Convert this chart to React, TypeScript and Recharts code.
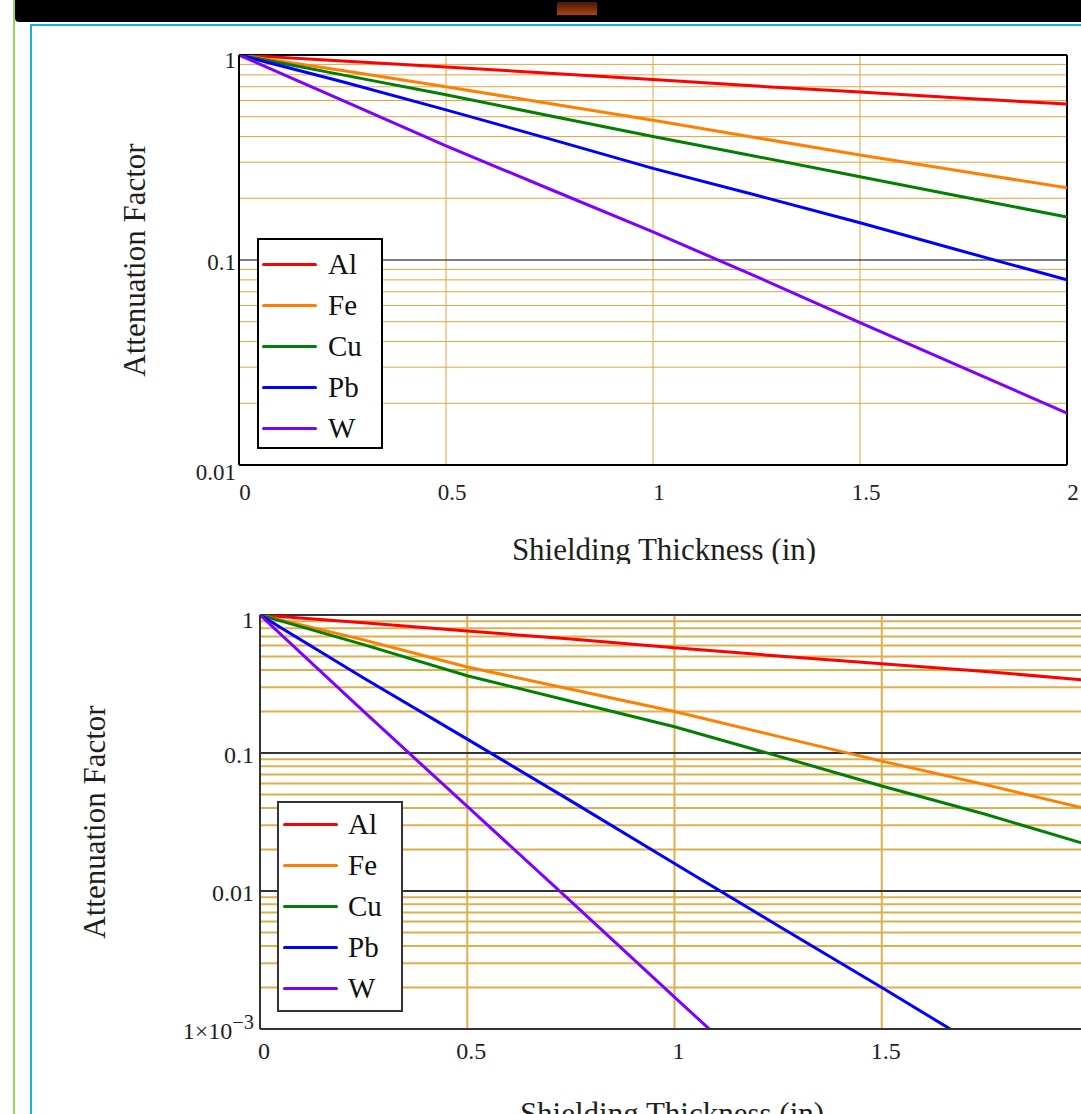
import React from 'react';
import { LineChart, Line, XAxis, YAxis, ReferenceLine } from 'recharts';

// shielding thickness (in) where the curves were read
const thickness = [0, 0.25, 0.5, 0.75, 1, 1.25, 1.5, 1.75, 2];
const materials = ['Al', 'Fe', 'Cu', 'Pb', 'W'];
const colors = ['#ff0000', '#ff8000', '#008000', '#0000ff', '#8000ff'];

// upper plot (0.01 .. 1)
const alUpper = [1, 0.935, 0.875, 0.815, 0.76, 0.705, 0.66, 0.615, 0.577];
const feUpper = [1, 0.84, 0.7, 0.58, 0.48, 0.395, 0.325, 0.27, 0.225];
const cuUpper = [1, 0.8, 0.64, 0.505, 0.4, 0.32, 0.255, 0.203, 0.162];
const pbUpper = [1, 0.74, 0.54, 0.39, 0.28, 0.207, 0.152, 0.11, 0.08];
const wUpper = [1, 0.6, 0.36, 0.222, 0.137, 0.083, 0.0495, 0.0298, 0.0179];

// lower plot (0.001 .. 1)
const alLower = [1, 0.88, 0.766, 0.67, 0.578, 0.505, 0.443, 0.39, 0.335];
const feLower = [1, 0.66, 0.42, 0.29, 0.2, 0.132, 0.0873, 0.059, 0.039];
const cuLower = [1, 0.61, 0.363, 0.237, 0.155, 0.095, 0.0576, 0.036, 0.0215];
const pbLower = [1, 0.35, 0.126, 0.045, 0.0158, 0.0056, 0.002, 0.0007, 0.00025];
const wLower = [1, 0.2, 0.041, 0.0084, 0.0017, 0.00035, 0.00007, 0.000015, 0.000003];

const xTicksUpper = [0, 0.5, 1, 1.5, 2];
const xTicksLower = [0, 0.5, 1, 1.5];
const xGrid = [0.5, 1, 1.5];
const yTicksUpper = [0.01, 0.1, 1];
const yTicksLower = [0.001, 0.01, 0.1, 1];

const FONT = '"Liberation Serif", "Times New Roman", serif';
const TEXT = '#1e1e1e';

const buildRows = (series: number[][]) =>
  thickness.map((x, i) => {
    const row: Record<string, number> = { x };
    materials.forEach((m, k) => (row[m] = series[k][i]));
    return row;
  });

// minor gridlines 2..9 inside each decade
const minorLines = (decades: number[]) =>
  decades.flatMap((d) => [2, 3, 4, 5, 6, 7, 8, 9].map((k) => +(k * d).toPrecision(3)));

const tickText = (v: number) => {
  if (v === 0.001) {
    return (
      <>
        <tspan>1×10</tspan>
        <tspan dy={-10} fontSize="0.85em">−3</tspan>
      </>
    );
  }
  return String(v);
};

interface PlotProps {
  rows: Record<string, number>[];
  top: number;
  width: number;
  height: number;
  plotLeft: number;
  plotTop: number;
  plotRight: number;
  plotBottom: number;
  yMin: number;
  yTicks: number[];
  xTicks: number[];
  minor: number[];
  decades: number[];
  gridColor: string;
  gridWidth: number;
  frameColor: string;
  decadeWidth: number;
  tickSize: number;
  yTickGap: number;
  xTickDx: number;
  xTickDy: number;
  bottomTickDy: number;
  yTitleX: number;
  xTitleX: number;
  showRightFrame: boolean;
}

function Plot(p: PlotProps) {
  const yTick = (props: any) => {
    const v = props.payload.value;
    const dy = v === 1 ? 13 : v === p.yMin ? p.bottomTickDy : 10;
    return (
      <text x={props.x - p.yTickGap} y={props.y + dy} textAnchor="end" fontFamily={FONT} fontSize={p.tickSize} fill={TEXT}>
        {tickText(v)}
      </text>
    );
  };
  const xTick = (props: any) => (
    <text x={props.x + p.xTickDx} y={props.y + p.xTickDy} textAnchor="middle" fontFamily={FONT} fontSize={p.tickSize} fill={TEXT}>
      {String(props.payload.value)}
    </text>
  );
  const midY = (p.plotTop + p.plotBottom) / 2;

  return (
    <div style={{ position: 'absolute', left: 0, top: p.top }}>
      <LineChart
        width={p.width}
        height={p.height}
        data={p.rows}
        margin={{ top: p.plotTop, right: p.width - p.plotRight, bottom: 0, left: 0 }}
      >
        <XAxis
          type="number"
          dataKey="x"
          domain={[0, 2]}
          ticks={p.xTicks}
          allowDataOverflow
          height={p.height - p.plotBottom}
          tickSize={0}
          tickMargin={0}
          tickLine={false}
          axisLine={{ stroke: p.frameColor, strokeWidth: 2 }}
          tick={xTick}
          label={{
            content: () => (
              <text x={p.xTitleX} y={p.plotBottom + 95} textAnchor="middle" fontFamily={FONT} fontSize={31} fill={TEXT}>
                Shielding Thickness (in)
              </text>
            ),
          }}
        />
        <YAxis
          type="number"
          scale="log"
          domain={[p.yMin, 1]}
          ticks={p.yTicks}
          allowDataOverflow
          width={p.plotLeft}
          tickSize={0}
          tickMargin={0}
          tickLine={false}
          axisLine={{ stroke: p.frameColor, strokeWidth: 2 }}
          tick={yTick}
          label={{
            content: () => (
              <text
                x={p.yTitleX}
                y={midY}
                transform={`rotate(-90, ${p.yTitleX}, ${midY})`}
                textAnchor="middle"
                dominantBaseline="central"
                fontFamily={FONT}
                fontSize={31}
                fill={TEXT}
              >
                Attenuation Factor
              </text>
            ),
          }}
        />
        {p.minor.map((v) => (
          <ReferenceLine key={'m' + v} y={v} stroke={p.gridColor} strokeWidth={p.gridWidth} />
        ))}
        {xGrid.map((v) => (
          <ReferenceLine key={'v' + v} x={v} stroke={p.gridColor} strokeWidth={p.gridWidth} />
        ))}
        {p.decades.map((v) => (
          <ReferenceLine key={'d' + v} y={v} stroke={p.frameColor} strokeWidth={p.decadeWidth} />
        ))}
        <ReferenceLine y={1} stroke={p.frameColor} strokeWidth={2} />
        {p.showRightFrame && <ReferenceLine x={2} stroke={p.frameColor} strokeWidth={2} />}
        {materials.map((m, i) => (
          <Line
            key={m}
            type="linear"
            dataKey={m}
            stroke={colors[i]}
            strokeWidth={3}
            dot={false}
            isAnimationActive={false}
          />
        ))}
      </LineChart>
    </div>
  );
}

function LegendBox({ left, top, rowTop, lineLeft, textLeft, border }: any) {
  return (
    <div
      style={{
        position: 'absolute',
        left,
        top,
        width: 126,
        height: 211,
        boxSizing: 'border-box',
        border: `2px solid ${border}`,
        background: '#fff',
      }}
    >
      {materials.map((m, i) => (
        <div key={m} style={{ position: 'absolute', left: 0, top: rowTop + i * 41 - 20, height: 40, width: '100%' }}>
          <div style={{ position: 'absolute', left: lineLeft, top: 18.5, width: 55, height: 3, background: colors[i], borderRadius: 1.5 }} />
          <div
            style={{
              position: 'absolute',
              left: textLeft,
              top: 0,
              height: 40,
              lineHeight: '40px',
              fontFamily: FONT,
              fontSize: 29,
              color: '#111',
            }}
          >
            {m}
          </div>
        </div>
      ))}
    </div>
  );
}

export default function App() {
  const upperRows = buildRows([alUpper, feUpper, cuUpper, pbUpper, wUpper]);
  const lowerRows = buildRows([alLower, feLower, cuLower, pbLower, wLower]);

  return (
    <div style={{ position: 'fixed', left: 0, top: 0, width: 1081, height: 1114, overflow: 'hidden', background: '#fff' }}>
      {/* page frame around the worksheet */}
      <div style={{ position: 'absolute', left: 13, top: 0, width: 2, height: 1114, background: '#9ed25a' }} />
      <div style={{ position: 'absolute', left: 15, top: 0, width: 1066, height: 22, background: '#000', borderBottomLeftRadius: 4 }} />
      <div style={{ position: 'absolute', left: 557, top: 2, width: 40, height: 13, background: 'linear-gradient(#4a1608, #a84410)' }} />
      <div style={{ position: 'absolute', left: 30, top: 24, width: 1051, height: 2, background: '#14aef0' }} />
      <div style={{ position: 'absolute', left: 30, top: 24, width: 2, height: 1090, background: '#14aef0' }} />

      <Plot
        rows={upperRows}
        top={0}
        width={1081}
        height={564}
        plotLeft={239}
        plotTop={55}
        plotRight={1067}
        plotBottom={465}
        yMin={0.01}
        yTicks={yTicksUpper}
        xTicks={xTicksUpper}
        minor={minorLines([0.01, 0.1])}
        decades={[0.1]}
        gridColor="#e2a53c"
        gridWidth={1}
        frameColor="#000"
        decadeWidth={1}
        tickSize={23}
        yTickGap={3}
        xTickDx={6}
        xTickDy={35}
        bottomTickDy={15}
        yTitleX={134}
        xTitleX={664}
        showRightFrame
      />
      <LegendBox left={257} top={238} rowTop={24} lineLeft={3} textLeft={69} border="#000" />

      <Plot
        rows={lowerRows}
        top={560}
        width={1110}
        height={554}
        plotLeft={260}
        plotTop={55}
        plotRight={1089}
        plotBottom={469}
        yMin={0.001}
        yTicks={yTicksLower}
        xTicks={xTicksLower}
        minor={minorLines([0.001, 0.01, 0.1])}
        decades={[0.01, 0.1]}
        gridColor="#deb04c"
        gridWidth={2}
        frameColor="#333"
        decadeWidth={2}
        tickSize={24}
        yTickGap={6}
        xTickDx={4}
        xTickDy={30}
        bottomTickDy={10}
        yTitleX={94}
        xTitleX={672}
        showRightFrame={false}
      />
      <LegendBox left={277} top={801} rowTop={21} lineLeft={4} textLeft={69} border="#333" />
    </div>
  );
}
